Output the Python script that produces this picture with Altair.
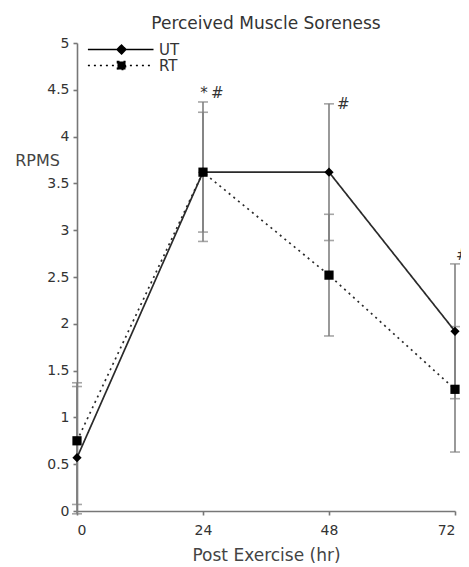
import altair as alt
import pandas as pd

# ---- data ----
hours = [0, 24, 48, 72]
series_names = ["UT", "RT"]

ut_mean = [0.57, 3.62, 3.62, 1.92]
ut_low = [-0.03, 2.88, 2.89, 1.20]
ut_high = [1.33, 4.37, 4.35, 2.64]

rt_mean = [0.75, 3.62, 2.52, 1.30]
rt_low = [0.07, 2.98, 1.87, 0.63]
rt_high = [1.37, 4.26, 3.17, 1.97]

star_hours = [24]
star_values = [4.47]
hash_hours = [24, 48]
hash_values = [4.47, 4.35]
edge_hash_hours = [72]
edge_hash_values = [2.73]

y_ticks = [0, 0.5, 1, 1.5, 2, 2.5, 3, 3.5, 4, 4.5, 5]

rows = []
for name, m, lo, hi in [("UT", ut_mean, ut_low, ut_high), ("RT", rt_mean, rt_low, rt_high)]:
    for h, a, b, c in zip(hours, m, lo, hi):
        rows.append({"hour": h, "series": name, "key": name, "mean": a, "low": b, "high": c})
df = pd.DataFrame(rows)
stars = pd.DataFrame({"hour": star_hours, "value": star_values, "label": ["*"] * len(star_hours)})
hashes = pd.DataFrame({"hour": hash_hours, "value": hash_values, "label": ["#"] * len(hash_hours)})
edge_hashes = pd.DataFrame({"hour": edge_hash_hours, "value": edge_hash_values,
                            "label": ["#"] * len(edge_hash_hours)})

FONT = "DejaVu Sans"
GREY = "#808080"
INK = "#2a2a2a"

x_enc = alt.X(
    "hour:Q",
    scale=alt.Scale(domain=[0, 72], nice=False),
    axis=alt.Axis(values=hours, title="Post Exercise (hr)", grid=False, format="d",
                  labelPadding=8, titlePadding=10),
)
y_scale = alt.Scale(domain=[0, 5], nice=False)
y_axis = alt.Axis(values=y_ticks, title="RPMS", grid=False, format="~g",
                  titleAngle=0, titleAlign="center", titleBaseline="middle",
                  titleX=-40, titleY=117, labelPadding=4, titleFontSize=16)

base = alt.Chart(df)

bars = base.mark_rule(color=GREY, strokeWidth=1.6).encode(
    x=x_enc,
    y=alt.Y("low:Q", scale=y_scale, axis=y_axis),
    y2="high:Q",
)
cap_lo = base.mark_tick(color=GREY, thickness=1.6, size=10, orient="horizontal").encode(
    x="hour:Q", y="low:Q"
)
cap_hi = base.mark_tick(color=GREY, thickness=1.6, size=10, orient="horizontal").encode(
    x="hour:Q", y="high:Q"
)

dash_scale = alt.Scale(domain=series_names, range=[[1, 0], [2, 4]])

lines = base.mark_line(color=INK, strokeWidth=1.7).encode(
    x="hour:Q",
    y="mean:Q",
    detail="series:N",
    strokeDash=alt.StrokeDash("series:N", scale=dash_scale, legend=None),
)

points = base.mark_point(filled=True, color="black", opacity=1, size=85).encode(
    x="hour:Q",
    y="mean:Q",
    shape=alt.Shape("series:N", scale=alt.Scale(domain=series_names, range=["diamond", "square"]),
                    legend=None),
)

legend_props = dict(
    title=None, orient="none", legendX=37, legendY=-1, padding=0,
    labelFont=FONT, labelFontSize=15, labelColor="#333", labelOffset=30,
    symbolStrokeWidth=1.6, symbolSize=64, rowPadding=-6, symbolOpacity=1,
)
ut_path = "M-8.4,0L8.0,0M0,-1.1L1.1,0L0,1.1L-1.1,0Z"
rt_path = "M-8.4,0L8.0,0M-1,-1L1,-1L1,1L-1,1Z"

legend_layer = base.transform_filter(alt.datum.hour < -100).mark_point(
    filled=True, fill="black", stroke="black", strokeWidth=1.6, opacity=1
).encode(
    x="hour:Q",
    y="mean:Q",
    shape=alt.Shape("key:N", scale=alt.Scale(domain=series_names, range=[ut_path, rt_path]),
                    legend=alt.Legend(**legend_props)),
    strokeDash=alt.StrokeDash("key:N", scale=alt.Scale(domain=series_names, range=[[1, 0], [2, 4]]),
                              legend=alt.Legend(**legend_props)),
)

star_text = alt.Chart(stars).mark_text(font=FONT, fontSize=15, color="#333", align="center",
                                       baseline="middle", dx=1).encode(
    x="hour:Q", y="value:Q", text="label:N"
)
hash_text = alt.Chart(hashes).mark_text(font=FONT, fontSize=15, color="#333", align="left",
                                        baseline="middle", dx=8).encode(
    x="hour:Q", y="value:Q", text="label:N"
)
edge_hash_text = alt.Chart(edge_hashes).mark_text(font=FONT, fontSize=15, color="#333", align="left",
                                                  baseline="middle", dx=1).encode(
    x="hour:Q", y="value:Q", text="label:N"
)

chart = alt.layer(bars, cap_lo, cap_hi, lines, points, legend_layer,
                  star_text, hash_text, edge_hash_text).resolve_scale(
    shape="independent", strokeDash="independent"
).properties(
    width=378,
    height=468,
    padding={"left": 69, "top": 35, "right": 6, "bottom": 52},
    autosize=alt.AutoSizeParams(type="none"),
    title=alt.TitleParams("Perceived Muscle Soreness", font=FONT, fontSize=17,
                          fontWeight="normal", color="#333", anchor="middle", offset=3),
).configure_axis(
    domainColor="#777", domainWidth=1.6, tickColor="#777", tickWidth=1.6, tickSize=4,
    labelFont=FONT, labelFontSize=14, labelColor="#333",
    titleFont=FONT, titleFontSize=17, titleFontWeight="normal", titleColor="#444",
).configure_view(stroke=None)

chart.save("out.html", embed_options={"renderer": "svg", "actions": False})
